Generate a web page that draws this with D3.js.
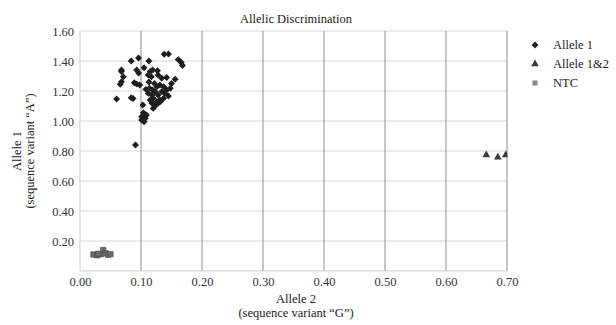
<!DOCTYPE html>
<html>
<head>
<meta charset="utf-8">
<script src="https://cdn.jsdelivr.net/npm/d3@7"></script>
<style>
  body { margin: 0; background: #fff; }
  svg, svg text { font-family: "Times New Roman", Times, "Liberation Serif", "DejaVu Serif", serif; }
</style>
</head>
<body>
<div id="chart"></div>
<script>
// values
const allele1 = [
  [0.091, 0.84], [0.060, 1.147], [0.084, 1.155], [0.087, 1.150],
  [0.068, 1.34], [0.068, 1.33], [0.084, 1.40], [0.096, 1.42], [0.113, 1.40],
  [0.138, 1.445], [0.145, 1.447], [0.161, 1.41], [0.166, 1.39], [0.168, 1.37],
  [0.071, 1.295], [0.068, 1.262], [0.066, 1.245], [0.093, 1.34], [0.096, 1.32],
  [0.105, 1.355], [0.115, 1.33], [0.119, 1.34], [0.127, 1.335],
  [0.089, 1.255], [0.093, 1.247], [0.098, 1.24], [0.112, 1.307], [0.117, 1.295],
  [0.128, 1.307], [0.134, 1.285], [0.142, 1.29], [0.156, 1.278],
  [0.108, 1.211], [0.114, 1.218], [0.119, 1.207], [0.126, 1.229], [0.131, 1.24],
  [0.137, 1.229], [0.142, 1.207], [0.148, 1.218], [0.112, 1.184], [0.118, 1.173],
  [0.123, 1.196], [0.128, 1.173], [0.134, 1.196], [0.139, 1.184], [0.145, 1.167],
  [0.115, 1.14], [0.120, 1.151], [0.126, 1.129], [0.131, 1.14], [0.137, 1.151],
  [0.118, 1.118], [0.123, 1.10], [0.128, 1.118], [0.132, 1.129], [0.120, 1.084],
  [0.103, 1.107], [0.104, 1.055], [0.101, 1.029], [0.107, 1.018], [0.109, 1.04],
  [0.101, 1.007], [0.105, 0.995], [0.113, 1.26], [0.122, 1.25], [0.150, 1.25]
];
const allele12 = [[0.666, 0.773], [0.685, 0.758], [0.698, 0.773]];
const ntc = [
  [0.022, 0.11], [0.028, 0.105], [0.034, 0.112], [0.038, 0.14],
  [0.042, 0.118], [0.046, 0.108], [0.050, 0.112], [0.030, 0.115]
];
const xTicks = [0, 0.1, 0.2, 0.3, 0.4, 0.5, 0.6, 0.7];
const yTicks = [0.2, 0.4, 0.6, 0.8, 1.0, 1.2, 1.4, 1.6];
const legendItems = ['Allele 1', 'Allele 1&2', 'NTC'];

const serif = '"Times New Roman", Times, "Liberation Serif", serif';
const width = 616, height = 325;
const margin = {left: 80, right: 109, top: 31, bottom: 54};
const w = width - margin.left - margin.right;
const h = height - margin.top - margin.bottom;

const svg = d3.select('#chart').append('svg')
  .attr('width', width).attr('height', height)
  .attr('font-family', serif);

const xScale = d3.scaleLinear().domain([0, 0.7]).range([0, w]);
const yScale = d3.scaleLinear().domain([0, 1.6]).range([h, 0]);

const mainG = svg.append('g')
  .attr('transform', `translate(${margin.left},${margin.top})`);

svg.append('defs').append('clipPath').attr('id', 'plotclip')
  .append('rect').attr('x', -1).attr('y', -6).attr('width', w + 1.5).attr('height', h + 6);

// horizontal grid (light)
mainG.selectAll('.hgrid').data(yTicks).enter().append('line')
  .attr('x1', 0).attr('x2', w)
  .attr('y1', d => yScale(d)).attr('y2', d => yScale(d))
  .attr('stroke', '#d6d6d6').attr('stroke-width', 1);
// vertical grid (darker)
mainG.selectAll('.vgrid').data(xTicks.slice(1)).enter().append('line')
  .attr('y1', 0).attr('y2', h)
  .attr('x1', d => xScale(d)).attr('x2', d => xScale(d))
  .attr('stroke', '#8c8c8c').attr('stroke-width', 1);
// axis lines
mainG.append('line').attr('x1', 0).attr('x2', 0).attr('y1', 0).attr('y2', h)
  .attr('stroke', '#cfcfcf');
mainG.append('line').attr('x1', 0).attr('x2', w).attr('y1', h).attr('y2', h)
  .attr('stroke', '#cfcfcf');

// tick labels
const yAxis = mainG.append('g').call(d3.axisLeft(yScale).tickValues(yTicks)
  .tickFormat(d3.format('.2f')).tickSize(0).tickPadding(6));
yAxis.attr('font-family', serif).select('.domain').remove();
yAxis.selectAll('text').attr('font-size', 12.5).attr('fill', '#333');

const xAxis = mainG.append('g').attr('transform', `translate(0,${h})`)
  .call(d3.axisBottom(xScale).tickValues(xTicks)
    .tickFormat(d3.format('.2f')).tickSize(0).tickPadding(6));
xAxis.attr('font-family', serif).select('.domain').remove();
xAxis.selectAll('text').attr('font-size', 12.5).attr('fill', '#333');

// marks
const marks = mainG.append('g').attr('clip-path', 'url(#plotclip)');
const diamond = d3.symbol().type(d3.symbolSquare).size(24);
marks.selectAll('.a1').data(allele1).enter().append('path')
  .attr('d', diamond)
  .attr('transform', d => `translate(${xScale(d[0])},${yScale(d[1])}) rotate(45)`)
  .attr('fill', '#1e1e1e');
const tri = d3.symbol().type(d3.symbolTriangle).size(26);
marks.selectAll('.a12').data(allele12).enter().append('path')
  .attr('d', tri)
  .attr('transform', d => `translate(${xScale(d[0])},${yScale(d[1])})`)
  .attr('fill', '#3a3a3a');
const sq = d3.symbol().type(d3.symbolSquare).size(30);
marks.selectAll('.ntc').data(ntc).enter().append('path')
  .attr('d', sq)
  .attr('transform', d => `translate(${xScale(d[0])},${yScale(d[1])})`)
  .attr('fill', '#6a6a6a').attr('stroke', '#444').attr('stroke-width', 0.5);

// title
svg.append('text').attr('x', 296).attr('y', 23).attr('text-anchor', 'middle')
  .attr('font-size', 12.5).attr('fill', '#222').text('Allelic Discrimination');

// axis titles
svg.append('text').attr('x', 296).attr('y', 303).attr('text-anchor', 'middle')
  .attr('font-size', 12.5).attr('fill', '#222').text('Allele 2');
svg.append('text').attr('x', 296).attr('y', 317).attr('text-anchor', 'middle')
  .attr('font-size', 12.5).attr('fill', '#222').text('(sequence variant \u201CG\u201D)');

const yt = svg.append('g').attr('transform', `translate(0,${margin.top + h / 2}) rotate(-90)`);
yt.append('text').attr('x', 0).attr('y', 21).attr('text-anchor', 'middle')
  .attr('font-size', 12.5).attr('fill', '#222').text('Allele 1');
yt.append('text').attr('x', 0).attr('y', 34).attr('text-anchor', 'middle')
  .attr('font-size', 12.5).attr('fill', '#222').text('(sequence variant \u201CA\u201D)');

// legend
const legend = svg.append('g').attr('transform', 'translate(535,45)');
const legendSymbols = [
  {sym: diamond, rot: 45, fill: '#1e1e1e'},
  {sym: tri, rot: 0, fill: '#3a3a3a'},
  {sym: d3.symbol().type(d3.symbolSquare).size(26), rot: 0, fill: '#8a8a8a'}
];
legendItems.forEach((name, i) => {
  const row = legend.append('g').attr('transform', `translate(0,${i * 19})`);
  row.append('path').attr('d', legendSymbols[i].sym)
    .attr('transform', `rotate(${legendSymbols[i].rot})`)
    .attr('fill', legendSymbols[i].fill);
  row.append('text').attr('x', 18).attr('y', 4).attr('font-size', 12.5)
    .attr('fill', '#222').text(name);
});
</script>
</body>
</html>
